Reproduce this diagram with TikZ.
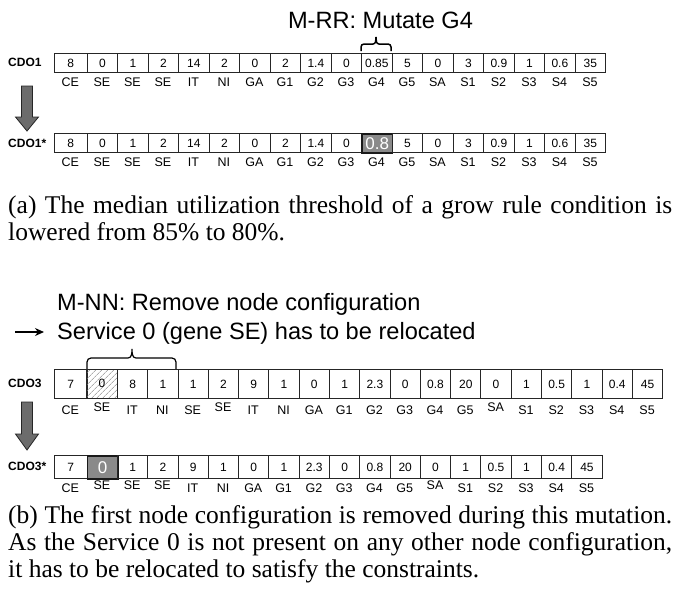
\documentclass[tikz,border=0pt]{standalone}
\usepackage{fontspec}
\setmainfont{Liberation Sans}
\newfontfamily\captionserif{Liberation Serif}
\usetikzlibrary{patterns.meta,arrows.meta}
\definecolor{cellgray}{RGB}{138,138,138}
\definecolor{arrowgray}{RGB}{108,108,108}
\tikzset{
  cell/.style={draw=black!85,line width=0.9pt,inner sep=0pt,anchor=north west,
    font=\fontsize{12}{14}\selectfont},
  nc/.style={},
  hl/.style={fill=cellgray,draw=black!90,line width=1.6pt,text=white,
    font=\fontsize{17}{19}\selectfont},
  ht/.style={pattern={Lines[angle=45,distance=4pt,line width=0.45pt]},pattern color=black!50},
  gene/.style={anchor=base,inner sep=0pt,font=\fontsize{12.5}{14}\selectfont},
  gn/.style={},
  gu/.style={yshift=2.5pt},
  rowname/.style={anchor=west,inner sep=0pt,font=\bfseries\fontsize{12}{14}\selectfont},
  heading/.style={inner sep=0pt,font=\fontsize{23.6}{28}\selectfont},
  captext/.style={anchor=base west,inner sep=0pt,font=\captionserif\fontsize{25.5}{27}\selectfont},
  blockarrow/.style={fill=arrowgray,draw=black!85,line width=0.8pt},
  bracepath/.style={draw=black,line width=1.5pt},
}
% one chromosome: #1 prefix, #2 top, #3 cell height, #4 width of cells 2.., #5 gap to gene baseline,
% #6 list value/cell style/gene/gene style
\newcommand\cellrow[6]{%
  \foreach \v/\s/\g/\gs [count=\i] in {#6} {
    \pgfmathsetmacro\cw{\i==1 ? 32.7 : #4}
    \pgfmathsetmacro\cx{\i==1 ? 54 : 86.7+(\i-2)*#4}
    \pgfmathsetmacro\gx{\cx+\cw/2}
    \pgfmathsetmacro\gy{#2+#3+#5}
    \node[cell,\s,minimum width=\cw pt,minimum height=#3 pt] (#1c\i) at (\cx,#2) {\v};
    \node[gene,\gs] (#1g\i) at (\gx,\gy) {\g};
  }
}
\begin{document}
\begin{tikzpicture}[x=1pt,y=-1pt]
\useasboundingbox (0,0) rectangle (679,592);
\fill[white] (0,0) rectangle (679,592);

% ---------- (a) grow rule mutation ----------
\node[heading,anchor=base] (titlea) at (380.5,28.5) {M-RR: Mutate G4};
\draw[bracepath] (361,51) -- (361,47) to[out=90,in=180] (364,44) -- (373,44)
  to[out=0,in=270] (376,37) to[out=270,in=180] (379,44) -- (388,44)
  to[out=0,in=90] (391,47) -- (391,51);

\node[rowname] (cdo1) at (8,62.5) {CDO1};
\cellrow{a}{53}{19}{30.5}{14}{8/nc/CE/gn, 0/nc/SE/gn, 1/nc/SE/gn, 2/nc/SE/gn, 14/nc/IT/gn,
  2/nc/NI/gn, 0/nc/GA/gn, 2/nc/G1/gn, 1.4/nc/G2/gn, 0/nc/G3/gn, 0.85/nc/G4/gn, 5/nc/G5/gn,
  0/nc/SA/gn, 3/nc/S1/gn, 0.9/nc/S2/gn, 1/nc/S3/gn, 0.6/nc/S4/gn, 35/nc/S5/gn}

\draw[blockarrow] (21.5,86) -- (32.5,86) -- (32.5,117) -- (38.5,117) -- (27,131)
  -- (15.5,117) -- (21.5,117) -- cycle;

\node[rowname] (cdo1s) at (8,143) {CDO1*};
\cellrow{b}{133}{19}{30.5}{14}{8/nc/CE/gn, 0/nc/SE/gn, 1/nc/SE/gn, 2/nc/SE/gn, 14/nc/IT/gn,
  2/nc/NI/gn, 0/nc/GA/gn, 2/nc/G1/gn, 1.4/nc/G2/gn, 0/nc/G3/gn, 0.8/hl/G4/gn, 5/nc/G5/gn,
  0/nc/SA/gn, 3/nc/S1/gn, 0.9/nc/S2/gn, 1/nc/S3/gn, 0.6/nc/S4/gn, 35/nc/S5/gn}

\node[captext] (capa1) at (8,213.5)
  {\makebox[664pt][s]{(a) The median utilization threshold of a grow rule condition is}};
\node[captext] (capa2) at (8,240) {lowered from 85\% to 80\%.};

% ---------- (b) node removal mutation ----------
\node[heading,anchor=base west] (titleb1) at (57,310.5) {M-NN: Remove node configuration};
\node[heading,anchor=base west] (titleb2) at (57,339.5) {Service 0 (gene SE) has to be relocated};
\coordinate (arrs) at (15,332);
\coordinate (arre) at (44,332);
\draw[line width=1.3pt,-{Stealth[length=9pt,width=8pt]}] (arrs) -- (arre);

\draw[bracepath,line width=1.2pt] (87,369) -- (87,362) to[out=90,in=180] (91,358) -- (128,358)
  to[out=0,in=270] (132,349) to[out=270,in=180] (136,358) -- (172,358)
  to[out=0,in=90] (176,362) -- (176,369);

\node[rowname] (cdo3) at (8,383.5) {CDO3};
\cellrow{c}{369}{29}{30.29}{16}{7/nc/CE/gn, 0/ht/SE/gu, 8/nc/IT/gn, 1/nc/NI/gn, 1/nc/SE/gn,
  2/nc/SE/gu, 9/nc/IT/gn, 1/nc/NI/gn, 0/nc/GA/gn, 1/nc/G1/gn, 2.3/nc/G2/gn, 0/nc/G3/gn,
  0.8/nc/G4/gn, 20/nc/G5/gn, 0/nc/SA/gu, 1/nc/S1/gn, 0.5/nc/S2/gn, 1/nc/S3/gn, 0.4/nc/S4/gn,
  45/nc/S5/gn}

\draw[blockarrow] (21.5,402) -- (32.5,402) -- (32.5,434) -- (38.5,434) -- (27,450)
  -- (15.5,434) -- (21.5,434) -- cycle;

\node[rowname] (cdo3s) at (8,466.5) {CDO3*};
\cellrow{d}{455}{23}{30.29}{14}{7/nc/CE/gn, 0/hl/SE/gu, 1/nc/SE/gu, 2/nc/SE/gu, 9/nc/IT/gn,
  1/nc/NI/gn, 0/nc/GA/gn, 1/nc/G1/gn, 2.3/nc/G2/gn, 0/nc/G3/gn, 0.8/nc/G4/gn, 20/nc/G5/gn,
  0/nc/SA/gu, 1/nc/S1/gn, 0.5/nc/S2/gn, 1/nc/S3/gn, 0.4/nc/S4/gn, 45/nc/S5/gn}

\node[captext] (capb1) at (8,523.5)
  {\makebox[664pt][s]{(b) The first node configuration is removed during this mutation.}};
\node[captext] (capb2) at (8,550.5)
  {\makebox[664pt][s]{As the Service 0 is not present on any other node configuration,}};
\node[captext] (capb3) at (8,577.5) {it has to be relocated to satisfy the constraints.};
\end{tikzpicture}
\end{document}
